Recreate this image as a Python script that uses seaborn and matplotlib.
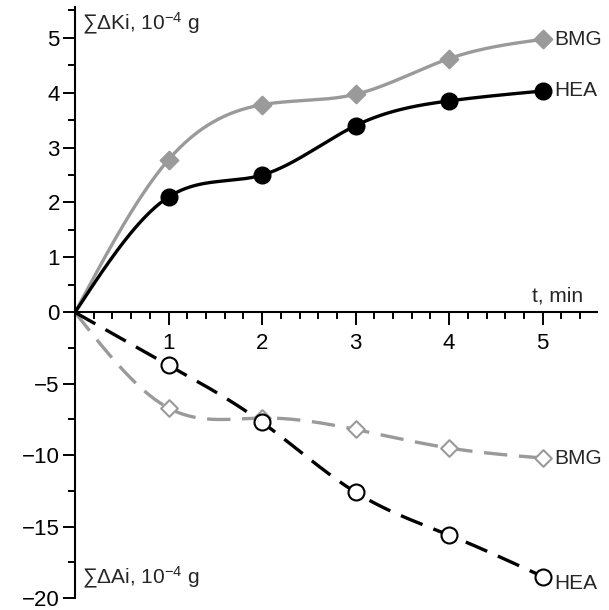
import numpy as np
import pandas as pd
import matplotlib
matplotlib.use("Agg")
import matplotlib.pyplot as plt
import seaborn as sns

# values
t = [0, 1, 2, 3, 4, 5]
bmg_k = [0, 2.78, 3.78, 3.97, 4.62, 4.97]      # sum dKi, 1e-4 g
hea_k = [0, 2.10, 2.50, 3.40, 3.85, 4.03]
bmg_a = [0, -6.7, -7.4, -8.2, -9.5, -10.2]      # sum dAi, 1e-4 g
hea_a = [0, -3.7, -7.7, -12.6, -15.6, -18.5]

K = 0.26   # lower scale drawn compressed on the same axis
GRAY = "#9a9a9a"


def spline(x, y, n=300):
    # natural cubic spline, used only to draw the smooth connecting line
    x = np.asarray(x, float); y = np.asarray(y, float)
    m = len(x); h = np.diff(x)
    A = np.zeros((m, m)); b = np.zeros(m)
    A[0, 0] = A[-1, -1] = 1
    for i in range(1, m - 1):
        A[i, i - 1] = h[i - 1]; A[i, i] = 2 * (h[i - 1] + h[i]); A[i, i + 1] = h[i]
        b[i] = 6 * ((y[i + 1] - y[i]) / h[i] - (y[i] - y[i - 1]) / h[i - 1])
    M = np.linalg.solve(A, b)
    xs = np.linspace(x[0], x[-1], n)
    j = np.clip(np.searchsorted(x, xs) - 1, 0, m - 2)
    dx = xs - x[j]; hj = h[j]
    ys = (M[j] * (x[j + 1] - xs) ** 3 / (6 * hj) + M[j + 1] * dx ** 3 / (6 * hj)
          + (y[j] / hj - M[j] * hj / 6) * (x[j + 1] - xs)
          + (y[j + 1] / hj - M[j + 1] * hj / 6) * dx)
    return xs, ys


sns.set_style("white")
plt.rcParams['font.family'] = ['Liberation Sans', 'DejaVu Sans']
plt.rcParams['mathtext.fontset'] = 'custom'
plt.rcParams['mathtext.rm'] = 'Liberation Sans'
plt.rcParams['mathtext.it'] = 'Liberation Sans'

fig = plt.figure(figsize=(6.09, 6.10), dpi=100)
ax = fig.add_axes([0.1232, 0.0197, 0.857, 0.9689])

series = [
    (bmg_k, 1.0, GRAY, "-", "D", GRAY, 9),
    (hea_k, 1.0, "black", "-", "o", "black", 11.5),
    (bmg_a, K, GRAY, (0, (7, 3.5)), "D", "white", 8.5),
    (hea_a, K, "black", (0, (7, 3.5)), "o", "white", 11.5),
]
for vals, k, col, ls, mk, fc, ms in series:
    yv = np.array(vals) * k
    xs, ys = spline(t, yv)
    sns.lineplot(x=xs, y=ys, ax=ax, color=col, lw=2.4, linestyle=ls, sort=False)
    df = pd.DataFrame({"t": t[1:], "v": yv[1:]})
    sns.scatterplot(data=df, x="t", y="v", ax=ax, marker=mk, s=ms ** 2,
                    color=fc, edgecolor=col, linewidth=1.5, zorder=5)

ax.set_xlim(0, 5.58)
ax.set_ylim(-20 * K, 5.56)
ax.spines['left'].set_position(('data', 0))
ax.spines['bottom'].set_position(('data', 0))
ax.spines['top'].set_visible(False)
ax.spines['right'].set_visible(False)
for s in ['left', 'bottom']:
    ax.spines[s].set_linewidth(1.5)
    ax.spines[s].set_color('black')

ax.set_xticks([1, 2, 3, 4, 5])
ax.set_xticks(np.arange(0.2, 5.5, 0.2), minor=True)
ax.set_xticklabels(['1', '2', '3', '4', '5'])
yt = [-20 * K, -15 * K, -10 * K, -5 * K, 0, 1, 2, 3, 4, 5]
ax.set_yticks(yt)
ax.set_yticklabels(['−20', '−15', '−10', '−5', '0', '1', '2', '3', '4', '5'])
ax.set_yticks([-17.5 * K, -12.5 * K, -7.5 * K, -2.5 * K, 0.5, 1.5, 2.5, 3.5, 4.5, 5.5], minor=True)
ax.tick_params(axis='x', which='both', bottom=True, top=False, colors='black')
ax.tick_params(axis='y', which='both', left=True, right=False, colors='black')
ax.tick_params(axis='x', which='major', direction='out', length=9, width=1.4, pad=6, labelsize=16)
ax.tick_params(axis='x', which='minor', direction='out', length=5, width=1.4)
ax.tick_params(axis='y', which='major', direction='out', length=9, width=1.4, pad=2, labelsize=16)
ax.tick_params(axis='y', which='minor', direction='out', length=5, width=1.4)
ax.set_xlabel(""); ax.set_ylabel("")

ax.text(0.07, 5.25, "∑ΔKi, 10$^{-4}$ g", fontsize=15, va='center', ha='left')
ax.text(0.07, -18.6 * K, "∑ΔAi, 10$^{-4}$ g", fontsize=15, va='center', ha='left')
ax.text(5.43, 0.12, "t, min", fontsize=15, va='bottom', ha='right')
ax.text(5.12, bmg_k[-1], "BMG", fontsize=15, va='center', ha='left')
ax.text(5.12, hea_k[-1], "HEA", fontsize=15, va='center', ha='left')
ax.text(5.12, bmg_a[-1] * K, "BMG", fontsize=15, va='center', ha='left')
ax.text(5.12, hea_a[-1] * K - 0.12, "HEA", fontsize=15, va='center', ha='left')

fig.savefig("out.png", dpi=100)
